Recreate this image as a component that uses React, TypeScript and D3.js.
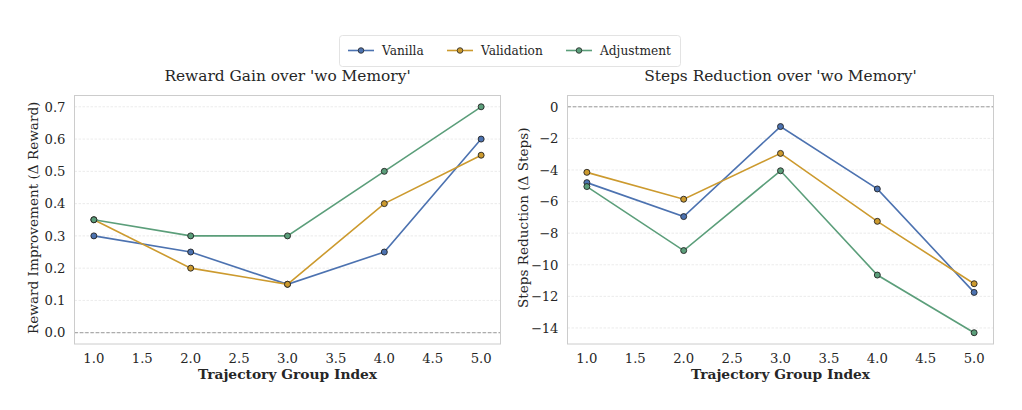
import * as d3 from "d3";

const groups = [1, 2, 3, 4, 5];
const seriesNames = ["Vanilla", "Validation", "Adjustment"];
const seriesColors = ["#4C72B0", "#CC9A2E", "#5B9E7A"];

const rewardVanilla = [0.3, 0.25, 0.15, 0.25, 0.6];
const rewardValidation = [0.35, 0.2, 0.15, 0.4, 0.55];
const rewardAdjustment = [0.35, 0.3, 0.3, 0.5, 0.7];

const stepsVanilla = [-4.8, -6.95, -1.25, -5.2, -11.75];
const stepsValidation = [-4.15, -5.85, -2.95, -7.25, -11.2];
const stepsAdjustment = [-5.05, -9.1, -4.05, -10.65, -14.3];

const xTicks = [1.0, 1.5, 2.0, 2.5, 3.0, 3.5, 4.0, 4.5, 5.0];
const rewardTicks = [0.0, 0.1, 0.2, 0.3, 0.4, 0.5, 0.6, 0.7];
const stepsTicks = [0, -2, -4, -6, -8, -10, -12, -14];

const FONT = "'DejaVu Serif', serif";
const W = 1022;
const H = 410;

interface PanelProps {
  left: number;
  right: number;
  top: number;
  bottom: number;
  title: string;
  yLabel: string;
  yLabelGap: number;
  series: number[][];
  yTicks: number[];
  fmt: (v: number) => string;
  yPadMin: number;
  yPadMax: number;
}

function Panel({ left, right, top, bottom, title, yLabel, yLabelGap, series, yTicks, fmt, yPadMin, yPadMax }: PanelProps) {
  const x = d3.scaleLinear().domain([0.8, 5.2]).range([left, right]);
  const y = d3.scaleLinear().domain([yPadMin, yPadMax]).range([bottom, top]);
  const line = d3
    .line<number>()
    .x((_, i) => x(groups[i]))
    .y((d) => y(d));

  return (
    <g>
      <text x={(left + right) / 2} y={top - 14.5} textAnchor="middle" fontSize={15.4} fill="#262626" fontFamily={FONT}>
        {title}
      </text>
      {yTicks.map((t) => (
        <line key={"g" + t} x1={left} x2={right} y1={y(t)} y2={y(t)} stroke="#e3e3e3" strokeWidth={0.7} strokeDasharray="2.5,1.5" />
      ))}
      <line x1={left} x2={right} y1={y(0)} y2={y(0)} stroke="#9a9a9a" strokeWidth={1} strokeDasharray="3.5,1.8" />
      <rect x={left} y={top} width={right - left} height={bottom - top} fill="none" stroke="#cccccc" strokeWidth={1} />
      {yTicks.map((t) => (
        <text key={"t" + t} x={left - 9} y={y(t)} dy="0.36em" textAnchor="end" fontSize={13.2} fill="#262626" fontFamily={FONT}>
          {fmt(t)}
        </text>
      ))}
      {xTicks.map((t) => (
        <text key={"x" + t} x={x(t)} y={bottom + 19.3} textAnchor="middle" fontSize={13.2} fill="#262626" fontFamily={FONT}>
          {t.toFixed(1)}
        </text>
      ))}
      <text x={(left + right) / 2} y={bottom + 35} textAnchor="middle" fontSize={13.8} fontWeight="bold" fill="#262626" fontFamily={FONT}>
        Trajectory Group Index
      </text>
      <text
        transform={`translate(${left - yLabelGap},${(top + bottom) / 2 - 2}) rotate(-90)`}
        textAnchor="middle"
        fontSize={13.6}
        fill="#262626"
        fontFamily={FONT}
      >
        {yLabel}
      </text>
      {series.map((s, si) => (
        <g key={si}>
          <path d={line(s) ?? ""} fill="none" stroke={seriesColors[si]} strokeWidth={1.6} />
          {s.map((v, i) => (
            <circle key={i} cx={x(groups[i])} cy={y(v)} r={3} fill={seriesColors[si]} stroke="#222" strokeWidth={0.9} />
          ))}
        </g>
      ))}
    </g>
  );
}

function Legend() {
  const itemX = [348, 447, 566];
  return (
    <g>
      <rect x={339.5} y={35.5} width={341} height={31} rx={3} fill="#fff" stroke="#dcdcdc" strokeWidth={0.8} />
      {seriesNames.map((n, i) => (
        <g key={n}>
          <line x1={itemX[i]} x2={itemX[i] + 26} y1={50.5} y2={50.5} stroke={seriesColors[i]} strokeWidth={1.6} />
          <circle cx={itemX[i] + 13} cy={50.5} r={2.8} fill={seriesColors[i]} stroke="#222" strokeWidth={0.8} />
          <text x={itemX[i] + 34} y={50.5} dy="0.36em" fontSize={12.2} fill="#262626" fontFamily={FONT}>
            {n}
          </text>
        </g>
      ))}
    </g>
  );
}

export default function App() {
  const rewardMax = 0.7;
  const rewardMin = 0;
  const rewardPad = (rewardMax - rewardMin) * 0.05;
  const stepsMin = d3.min([...stepsVanilla, ...stepsValidation, ...stepsAdjustment]) ?? -14.3;
  const stepsMax = 0;
  const stepsPad = (stepsMax - stepsMin) * 0.05;

  return (
    <svg width={W} height={H} style={{ position: "absolute", left: 0, top: 0, background: "#fff" }}>
      <rect width={W} height={H} fill="#fff" />
      <Legend />
      <Panel
        left={74.5}
        right={500.5}
        top={95.5}
        bottom={344}
        title="Reward Gain over 'wo Memory'"
        yLabel="Reward Improvement (Δ Reward)"
        yLabelGap={37}
        series={[rewardVanilla, rewardValidation, rewardAdjustment]}
        yTicks={rewardTicks}
        fmt={(v) => v.toFixed(1)}
        yPadMin={rewardMin - rewardPad}
        yPadMax={rewardMax + rewardPad}
      />
      <Panel
        left={567.5}
        right={993.5}
        top={95.5}
        bottom={344}
        title="Steps Reduction over 'wo Memory'"
        yLabel="Steps Reduction (Δ Steps)"
        yLabelGap={39.5}
        series={[stepsVanilla, stepsValidation, stepsAdjustment]}
        yTicks={stepsTicks}
        fmt={(v) => (v < 0 ? "\u2212" + Math.abs(v) : String(v))}
        yPadMin={stepsMin - stepsPad}
        yPadMax={stepsMax + stepsPad}
      />
    </svg>
  );
}
